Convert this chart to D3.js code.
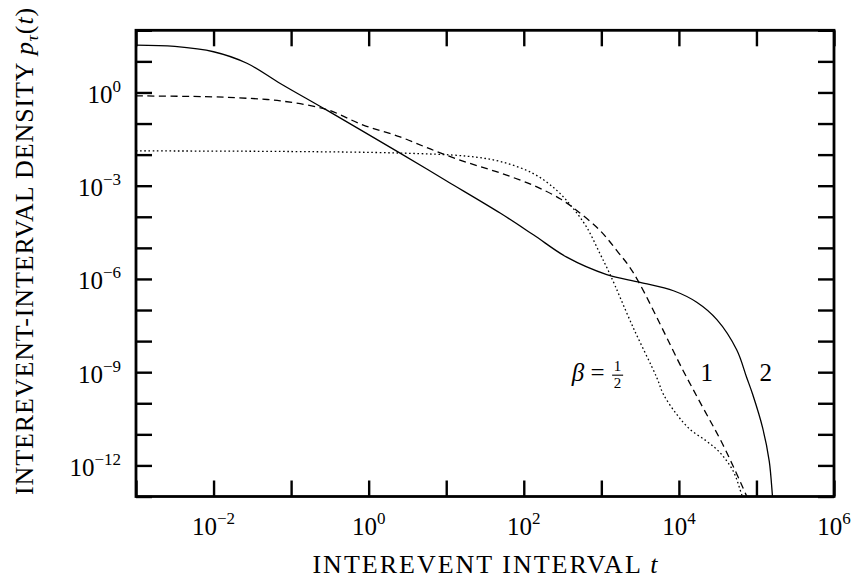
<!DOCTYPE html>
<html>
<head>
<meta charset="utf-8">
<script src="https://cdn.jsdelivr.net/npm/d3@7"></script>
<style>
  body { margin: 0; background: #fff; }
  svg { display: block; }
  text { font-family: "Liberation Serif", "DejaVu Serif", serif; fill: #000; }
</style>
</head>
<body>
<svg id="canvas" width="853" height="578"></svg>
<script>
'use strict';

// decade exponents for ticks and labels
const xTickExps = [-3, -2, -1, 0, 1, 2, 3, 4, 5, 6];
const xLabelExps = [-2, 0, 2, 4, 6];
const yTickExps = [-13, -12, -11, -10, -9, -8, -7, -6, -5, -4, -3, -2, -1, 0, 1, 2];
const yLabelExps = [0, -3, -6, -9, -12];

// curves, as log10(t) and log10(p)
const logT_beta2 = [-3, -2.5, -2.0, -1.57, -1.14, -0.54, 0.405, 1.0, 1.695, 2.124, 2.554, 3.07, 3.5, 3.93, 4.23, 4.49, 4.745, 4.874, 4.951, 5.08, 5.165, 5.209, 5.22];
const logP_beta2 = [1.52, 1.48, 1.31, 0.94, 0.29, -0.57, -1.95, -2.84, -3.88, -4.58, -5.30, -5.86, -6.11, -6.38, -6.75, -7.31, -8.28, -9.17, -9.71, -10.79, -11.86, -13.05, -13.3];

const logT_beta1 = [-3, -2.0, -1.7, -1.14, -0.54, -0.07, 0.405, 0.835, 1.265, 1.695, 2.124, 2.468, 2.683, 2.983, 3.2, 3.41, 4.057, 4.31, 4.565, 4.865, 4.9];
const logP_beta1 = [-0.11, -0.14, -0.17, -0.27, -0.55, -1.05, -1.43, -1.86, -2.25, -2.59, -2.99, -3.42, -3.80, -4.44, -5.09, -5.79, -8.96, -10.14, -11.32, -12.94, -13.15];

const logT_betaHalf = [-3, -1, 0.4, 1.265, 1.695, 2.124, 2.425, 2.64, 2.812, 2.983, 3.11, 3.41, 3.714, 3.8, 3.97, 4.143, 4.358, 4.53, 4.7, 4.81, 4.84];
const logP_betaHalf = [-1.88, -1.90, -1.95, -2.05, -2.22, -2.61, -3.15, -3.74, -4.34, -5.19, -5.84, -7.56, -9.17, -9.71, -10.35, -10.84, -11.22, -11.59, -12.18, -12.94, -13.15];

function Main() {
  const svg = d3.select('#canvas');
  const left = 136, right = 834, top = 30.3, bottom = 496.5;
  const kTick = 16;

  const x = d3.scaleLog().domain([1e-3, 1e6]).range([left, right]);
  const y = d3.scaleLog().domain([1e-13, 1e2]).range([bottom, top]);

  svg.append('defs').append('clipPath').attr('id', 'plotClip')
    .append('rect')
      .attr('x', left).attr('y', top)
      .attr('width', right - left).attr('height', bottom - top);

  // curves
  const series = [
    { t: logT_beta2, p: logP_beta2, dash: null },
    { t: logT_beta1, p: logP_beta1, dash: '7,4.5' },
    { t: logT_betaHalf, p: logP_betaHalf, dash: '1.6,2.6' }
  ];
  const line = d3.line()
      .x(function(d) { return x(Math.pow(10, d[0])); })
      .y(function(d) { return y(Math.pow(10, d[1])); })
      .curve(d3.curveCatmullRom.alpha(0.5));

  svg.append('g').attr('clip-path', 'url(#plotClip)')
    .selectAll('path')
      .data(series)
    .enter().append('path')
      .attr('d', function(s) {
        return line(s.t.map(function(v, i) { return [v, s.p[i]]; }));
      })
      .attr('fill', 'none')
      .attr('stroke', '#000')
      .attr('stroke-width', 1.3)
      .attr('stroke-dasharray', function(s) { return s.dash; });

  // axes with inward ticks on all four sides
  const xTicks = xTickExps.map(function(e) { return Math.pow(10, e); });
  const yTicks = yTickExps.map(function(e) { return Math.pow(10, e); });
  const axes = [
    [d3.axisBottom(x).tickValues(xTicks), 'translate(0,' + bottom + ')'],
    [d3.axisTop(x).tickValues(xTicks), 'translate(0,' + top + ')'],
    [d3.axisLeft(y).tickValues(yTicks), 'translate(' + left + ',0)'],
    [d3.axisRight(y).tickValues(yTicks), 'translate(' + right + ',0)']
  ];
  axes.forEach(function(a) {
    const g = svg.append('g').attr('transform', a[1])
      .call(a[0].tickSize(-kTick).tickSizeOuter(0).tickFormat(''));
    g.select('.domain').remove();
    g.selectAll('.tick line').attr('stroke', '#000').attr('stroke-width', 2.4);
  });

  svg.append('rect')
    .attr('x', left).attr('y', top)
    .attr('width', right - left).attr('height', bottom - top)
    .attr('fill', 'none').attr('stroke', '#000').attr('stroke-width', 2.8);

  // tick labels
  const xl = svg.append('g').selectAll('text')
      .data(xLabelExps)
    .enter().append('text')
      .attr('x', function(e) { return x(Math.pow(10, e)); })
      .attr('y', 535)
      .attr('text-anchor', 'middle')
      .attr('font-size', 25);
  xl.append('tspan').text('10');
  xl.append('tspan').attr('font-size', 17).attr('dy', -11)
      .text(function(e) { return String(e).replace('-', '\u2212'); });

  const yl = svg.append('g').selectAll('text')
      .data(yLabelExps)
    .enter().append('text')
      .attr('x', 121)
      .attr('y', function(e) { return y(Math.pow(10, e)) + 10.5; })
      .attr('text-anchor', 'end')
      .attr('font-size', 25);
  yl.append('tspan').text('10');
  yl.append('tspan').attr('font-size', 17).attr('dy', -11)
      .text(function(e) { return String(e).replace('-', '\u2212'); });

  // axis titles
  const xt = svg.append('text')
      .attr('x', 486).attr('y', 573)
      .attr('text-anchor', 'middle')
      .attr('font-size', 26)
      .attr('letter-spacing', 2);
  xt.append('tspan').text('INTEREVENT INTERVAL ');
  xt.append('tspan').attr('font-style', 'italic').text('t');

  const yt = svg.append('text')
      .attr('transform', 'translate(33,251) rotate(-90)')
      .attr('text-anchor', 'middle')
      .attr('font-size', 26)
      .attr('letter-spacing', 0.9);
  yt.append('tspan').text('INTEREVENT-INTERVAL DENSITY ');
  yt.append('tspan').attr('font-style', 'italic').text('p');
  yt.append('tspan').attr('font-style', 'italic').attr('font-size', 17).attr('dy', 5).text('\u03c4');
  yt.append('tspan').attr('dy', -5).text('(');
  yt.append('tspan').attr('font-style', 'italic').text('t');
  yt.append('tspan').text(')');

  // curve labels
  const labelY = y(1e-9) + 9;
  svg.append('text')
      .attr('x', x(Math.pow(10, 2.62))).attr('y', labelY)
      .attr('font-size', 25)
      .call(function(t) {
        t.append('tspan').attr('font-style', 'italic').text('\u03b2');
        t.append('tspan').text(' =');
      });
  const fx = x(Math.pow(10, 3.21));
  svg.append('text').attr('x', fx).attr('y', labelY - 10)
      .attr('text-anchor', 'middle').attr('font-size', 15).text('1');
  svg.append('line')
      .attr('x1', fx - 5.5).attr('x2', fx + 5.5)
      .attr('y1', labelY - 6).attr('y2', labelY - 6)
      .attr('stroke', '#000').attr('stroke-width', 1.1);
  svg.append('text').attr('x', fx).attr('y', labelY + 7)
      .attr('text-anchor', 'middle').attr('font-size', 15).text('2');
  svg.append('text').attr('x', x(Math.pow(10, 4.36))).attr('y', labelY)
      .attr('text-anchor', 'middle').attr('font-size', 25).text('1');
  svg.append('text').attr('x', x(Math.pow(10, 5.12))).attr('y', labelY)
      .attr('text-anchor', 'middle').attr('font-size', 25).text('2');
}

Main();
</script>
</body>
</html>
